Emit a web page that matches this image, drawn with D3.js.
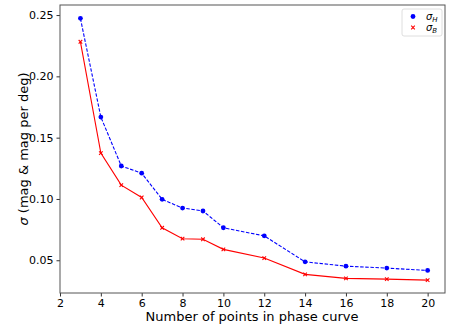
<!DOCTYPE html>
<html>
<head>
<meta charset="utf-8">
<script src="https://cdn.jsdelivr.net/npm/d3@7"></script>
<style>
  body { margin: 0; background: #fff; }
  svg text { font-family: "DejaVu Sans", sans-serif; fill: #000; }
</style>
</head>
<body>
<svg width="463" height="327"></svg>
<script>
// data
var nPoints = [3, 4, 5, 6, 7, 8, 9, 10, 12, 14, 16, 18, 20];
var sigmaH  = [0.2473, 0.1668, 0.1269, 0.1210, 0.0997, 0.0926, 0.0902, 0.0765, 0.0699, 0.0487, 0.0452, 0.0436, 0.0417];
var sigmaB  = [0.2282, 0.1374, 0.1113, 0.1012, 0.0765, 0.0676, 0.0671, 0.0589, 0.0518, 0.0385, 0.0352, 0.0346, 0.0338];
var xTicks  = [2, 4, 6, 8, 10, 12, 14, 16, 18, 20];
var yTicks  = [0.05, 0.10, 0.15, 0.20, 0.25];

var svg = d3.select("svg"),
    margin = {top: 5, right: 18, bottom: 34, left: 60},
    width = +svg.attr("width") - margin.left - margin.right,
    height = +svg.attr("height") - margin.top - margin.bottom;

var x = d3.scaleLinear().domain([2, 20.85]).range([0, width]);
var y = d3.scaleLinear().domain([0.0233, 0.2582]).range([height, 0]);

var g = svg.append("g")
    .attr("transform", "translate(" + margin.left + "," + margin.top + ")");

// axes
var xAxis = g.append("g")
    .attr("transform", "translate(0," + height + ")")
    .call(d3.axisBottom(x).tickValues(xTicks).tickSize(3.5).tickPadding(2.5).tickFormat(d3.format("d")));
var yAxis = g.append("g")
    .call(d3.axisLeft(y).tickValues(yTicks).tickSize(3.5).tickPadding(3).tickFormat(d3.format(".2f")));

[xAxis, yAxis].forEach(function(a) {
    a.select(".domain").remove();
    a.selectAll("line").attr("stroke", "#333");
    a.selectAll("text").style("font-size", "11px").attr("fill", "#000");
});

// frame
g.append("rect")
    .attr("width", width).attr("height", height)
    .attr("fill", "none").attr("stroke", "#555").attr("stroke-width", 1);

// lines
var line = d3.line()
    .x(function(d) { return x(d[0]); })
    .y(function(d) { return y(d[1]); });

var hData = nPoints.map(function(n, i) { return [n, sigmaH[i]]; });
var bData = nPoints.map(function(n, i) { return [n, sigmaB[i]]; });

g.append("path").datum(bData)
    .attr("d", line).attr("fill", "none")
    .attr("stroke", "#ff0000").attr("stroke-width", 1.1);

g.append("path").datum(hData)
    .attr("d", line).attr("fill", "none")
    .attr("stroke", "#0000ff").attr("stroke-width", 1.1)
    .attr("stroke-dasharray", "3.5,1.6");

g.selectAll(".dotH").data(hData).enter().append("circle")
    .attr("cx", function(d) { return x(d[0]); })
    .attr("cy", function(d) { return y(d[1]); })
    .attr("r", 2.4).attr("fill", "#0000ff");

// symbolTimes is a stroked symbol in d3 v7
var xm = d3.symbol().type(d3.symbolTimes).size(10);
g.selectAll(".dotB").data(bData).enter().append("path")
    .attr("d", xm)
    .attr("transform", function(d) { return "translate(" + x(d[0]) + "," + y(d[1]) + ")"; })
    .attr("fill", "none").attr("stroke", "#ff0000").attr("stroke-width", 1.1);

// legend
var leg = g.append("g").attr("transform", "translate(" + (width - 43) + ",4)");
leg.append("rect")
    .attr("width", 40).attr("height", 27).attr("rx", 2)
    .attr("fill", "#fff").attr("stroke", "#d5d5d5").attr("stroke-width", 0.8);
leg.append("circle").attr("cx", 11).attr("cy", 7.5).attr("r", 2.4).attr("fill", "#0000ff");
leg.append("path").attr("d", xm).attr("transform", "translate(11,18.5)")
    .attr("fill", "none").attr("stroke", "#ff0000").attr("stroke-width", 1.1);

var labels = [["H", 11], ["B", 22]];
labels.forEach(function(l) {
    var t = leg.append("text").attr("x", 24).attr("y", l[1]).style("font-size", "10px");
    t.append("tspan").style("font-style", "italic").text("σ");
    t.append("tspan").attr("dy", 2).style("font-size", "7px").style("font-style", "italic").text(l[0]);
});

// axis labels
svg.append("text")
    .attr("x", 252).attr("y", 321)
    .attr("text-anchor", "middle").style("font-size", "13px")
    .text("Number of points in phase curve");

var yl = svg.append("text")
    .attr("transform", "translate(28,149) rotate(-90)")
    .attr("text-anchor", "middle").style("font-size", "13px");
yl.append("tspan").style("font-style", "italic").text("σ");
yl.append("tspan").text(" (mag & mag per deg)");
</script>
</body>
</html>
